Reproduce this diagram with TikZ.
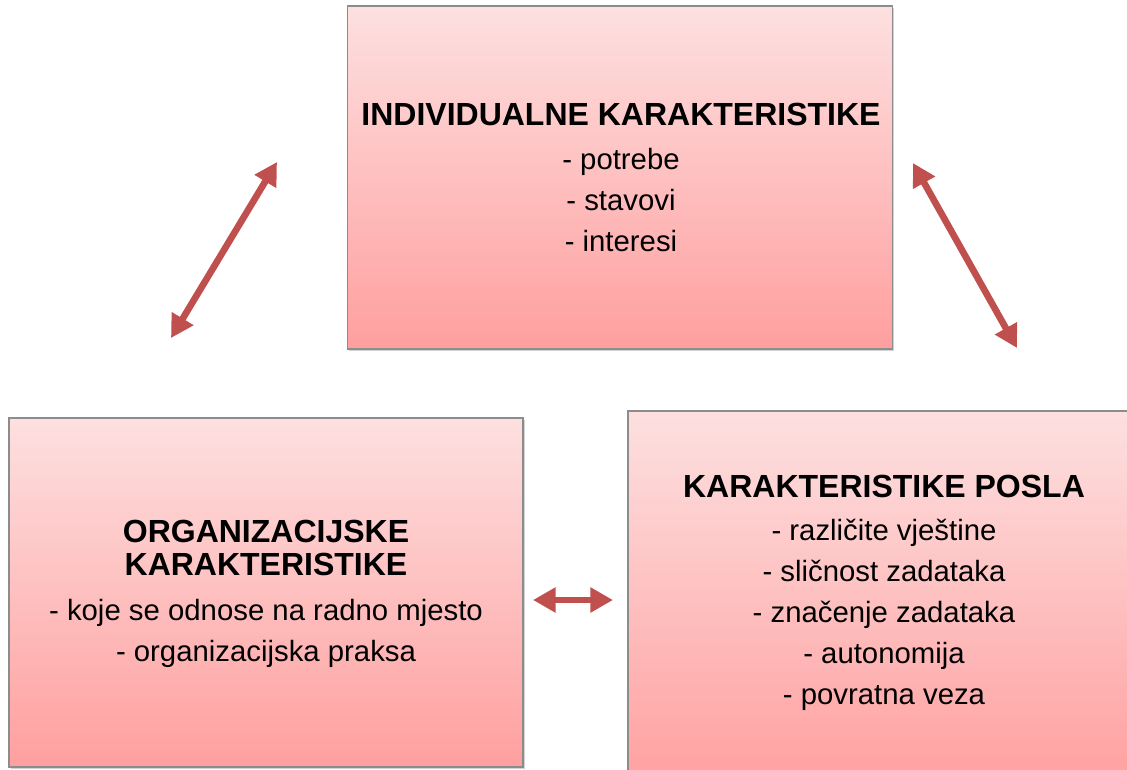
\documentclass[tikz,border=0pt]{standalone}
\usepackage{fontspec}
\setmainfont{Liberation Sans}
\usetikzlibrary{arrows.meta,shadows}
\definecolor{ruzagore}{HTML}{FDE0E0}
\definecolor{ruzadolje}{HTML}{FF9F9F}
\definecolor{rub}{HTML}{8C8C8C}
\definecolor{crvena}{HTML}{C0504D}
\newcommand{\naslov}[1]{{\bfseries\fontsize{24}{24}\selectfont #1}}
\begin{document}
\begin{tikzpicture}[x=0.75pt,y=-0.75pt,
  okvir/.style={draw=rub,line width=0.9pt,top color=ruzagore,bottom color=ruzadolje,
    drop shadow={shadow xshift=1.2pt,shadow yshift=-1.5pt,opacity=0.35},inner sep=0pt},
  tekst/.style={align=center,inner sep=0pt,anchor=north,font=\fontsize{22}{30.75}\selectfont},
  strelica/.style={{Triangle[length=17pt,width=18pt]}-{Triangle[length=17pt,width=18pt]},line width=5pt,draw=crvena}]
% granice slike
\useasboundingbox (0,0) rectangle (1127,769);
\clip (0,0) rectangle (1127,769);
% okviri
\node[okvir,minimum width=408.75pt,minimum height=257.25pt] (indiv) at (620,177.5) {};
\node[okvir,minimum width=385.5pt,minimum height=261.75pt] (org) at (266,592.5) {};
\node[okvir,minimum width=384pt,minimum height=284.25pt] (posao) at (884,600.5) {};
% tekstovi
\node[tekst] (indivtekst) at (621,103) {\naslov{INDIVIDUALNE KARAKTERISTIKE}\\[2.25pt]
  - potrebe\\ - stavovi\\ - interesi};
\node[tekst] (orgtekst) at (266,520) {\naslov{ORGANIZACIJSKE}\\[-6pt]
  \naslov{KARAKTERISTIKE}\\[3pt]
  - koje se odnose na radno mjesto\\ - organizacijska praksa};
\node[tekst] (posaotekst) at (884,475) {\naslov{KARAKTERISTIKE POSLA}\\[1.5pt]
  - različite vještine\\ - sličnost zadataka\\ - značenje zadataka\\ - autonomija\\ - povratna veza};
% strelice
\coordinate (lijevodolje) at (171,338);
\coordinate (lijevogore) at (277,162);
\coordinate (desnogore) at (913,163);
\coordinate (desnodolje) at (1017,348);
\coordinate (sredinalijevo) at (533,600);
\coordinate (sredinadesno) at (613,600);
\draw[strelica] (lijevodolje) -- (lijevogore);
\draw[strelica] (desnogore) -- (desnodolje);
\draw[strelica] (sredinalijevo) -- (sredinadesno);
\end{tikzpicture}
\end{document}
